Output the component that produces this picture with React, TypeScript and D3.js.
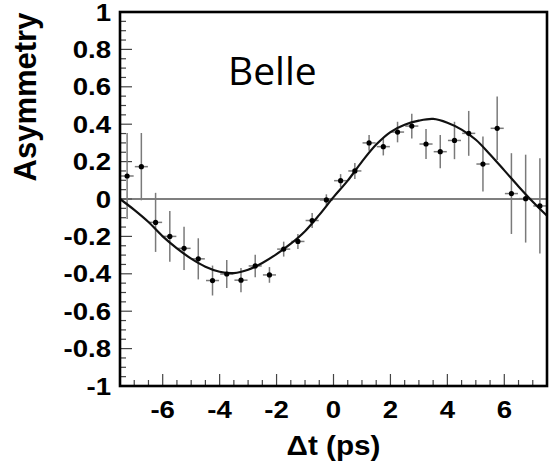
import React from "react";
import * as d3 from "d3";

// binned asymmetry (bin centres in ps)
const binCentres = [
  -7.25, -6.75, -6.25, -5.75, -5.25, -4.75, -4.25, -3.75, -3.25, -2.75,
  -2.25, -1.75, -1.25, -0.75, -0.25, 0.25, 0.75, 1.25, 1.75, 2.25,
  2.75, 3.25, 3.75, 4.25, 4.75, 5.25, 5.75, 6.25, 6.75, 7.25,
];
const asymValues = [
  0.123, 0.173, -0.125, -0.2, -0.264, -0.32, -0.436, -0.401, -0.434, -0.358,
  -0.406, -0.268, -0.227, -0.115, -0.005, 0.098, 0.15, 0.3, 0.28, 0.358,
  0.39, 0.294, 0.253, 0.313, 0.351, 0.187, 0.378, 0.029, 0.002, -0.037,
];
const asymErrors = [
  0.23, 0.18, 0.158, 0.136, 0.116, 0.11, 0.08, 0.075, 0.065, 0.06,
  0.042, 0.04, 0.04, 0.04, 0.03, 0.035, 0.043, 0.042, 0.047, 0.055,
  0.066, 0.08, 0.089, 0.1, 0.12, 0.147, 0.17, 0.216, 0.235, 0.255,
];
const binHalfWidth = 0.23;

// fitted curve, sampled from the plot
const fitTimes = [
  -7.5, -7, -6.5, -6, -5.5, -5, -4.5, -4, -3.5, -3, -2.5, -2, -1.5, -1, -0.5,
  0, 0.5, 1, 1.5, 2, 2.5, 3, 3.5, 4, 4.5, 5, 5.5, 6, 6.5, 7, 7.5,
];
const fitValues = [
  0.0, -0.058, -0.123, -0.2, -0.264, -0.319, -0.362, -0.389, -0.396, -0.378,
  -0.342, -0.295, -0.239, -0.172, -0.085, 0.01, 0.098, 0.2, 0.291, 0.358,
  0.397, 0.419, 0.428, 0.408, 0.371, 0.317, 0.238, 0.153, 0.067, -0.015, -0.09,
];

const xTickLabels = ["-6", "-4", "-2", "0", "2", "4", "6"];
const yTickLabels = ["-1", "-0.8", "-0.6", "-0.4", "-0.2", "0", "0.2", "0.4", "0.6", "0.8", "1"];

const W = 549;
const H = 469;
const plot = { left: 120, right: 547, top: 12, bottom: 386 };
const labelFont = "'Liberation Sans', Arial, Helvetica, sans-serif";

export default function App() {
  const x = d3.scaleLinear().domain([-7.5, 7.5]).range([plot.left, plot.right]);
  const y = d3.scaleLinear().domain([-1, 1]).range([plot.bottom, plot.top]);

  const fitLine = d3
    .line<number>()
    .x((d, i) => x(fitTimes[i]))
    .y((d) => y(d))
    .curve(d3.curveCatmullRom);

  const xMinor = d3.range(-7, 7.51, 0.5);
  const yMinor = d3.range(-1, 1.001, 0.05);

  return (
    <svg
      width={W}
      height={H}
      style={{ position: "absolute", left: 0, top: 0, background: "#fff" }}
    >
      {/* y ticks */}
      {yMinor.map((v, i) => {
        const major = i % 4 === 0;
        return (
          <line
            key={"yt" + i}
            x1={plot.left}
            x2={plot.left + (major ? 12 : 6)}
            y1={y(v)}
            y2={y(v)}
            stroke="#444"
            strokeWidth={1.2}
          />
        );
      })}
      {/* x ticks */}
      {xMinor.map((v, i) => {
        const major = Math.abs(Math.round(v) - v) < 1e-6 && Math.round(v) % 2 === 0;
        return (
          <line
            key={"xt" + i}
            x1={x(v)}
            x2={x(v)}
            y1={plot.bottom}
            y2={plot.bottom - (major ? 12 : 6)}
            stroke="#444"
            strokeWidth={1.2}
          />
        );
      })}

      {/* zero line */}
      <line x1={plot.left} x2={plot.right} y1={y(0)} y2={y(0)} stroke="#555" strokeWidth={1.5} />

      {/* error bars */}
      {binCentres.map((t, i) => {
        const v = asymValues[i];
        const e = asymErrors[i];
        return (
          <g key={"eb" + i} stroke="#7a7a7a" strokeWidth={1.5}>
            <line x1={x(t)} x2={x(t)} y1={y(Math.min(1, v + e))} y2={y(Math.max(-1, v - e))} />
            <line x1={x(t - binHalfWidth)} x2={x(t + binHalfWidth)} y1={y(v)} y2={y(v)} />
          </g>
        );
      })}

      {/* fit */}
      <path d={fitLine(fitValues) || ""} fill="none" stroke="#111" strokeWidth={2.2} />

      {/* points */}
      {binCentres.map((t, i) => (
        <circle key={"pt" + i} cx={x(t)} cy={y(asymValues[i])} r={2.6} fill="#000" />
      ))}

      {/* frame */}
      <rect
        x={plot.left}
        y={plot.top}
        width={plot.right - plot.left}
        height={plot.bottom - plot.top}
        fill="none"
        stroke="#000"
        strokeWidth={2.6}
      />

      {/* y tick labels */}
      {yTickLabels.map((s) => (
        <text
          key={"yl" + s}
          transform={`translate(111,${y(+s) + 8.5}) scale(1.15,1)`}
          textAnchor="end"
          fontFamily={labelFont}
          fontWeight="bold"
          fontSize={24}
          fill="#000"
        >
          {s}
        </text>
      ))}
      {/* x tick labels */}
      {xTickLabels.map((s) => (
        <text
          key={"xl" + s}
          transform={`translate(${x(+s)},418) scale(1.15,1)`}
          textAnchor="middle"
          fontFamily={labelFont}
          fontWeight="bold"
          fontSize={24}
          fill="#000"
        >
          {s}
        </text>
      ))}

      {/* axis titles */}
      <text
        transform={`translate(${(plot.left + plot.right) / 2},455) scale(1.1,1)`}
        textAnchor="middle"
        fontFamily={labelFont}
        fontWeight="bold"
        fontSize={27}
        fill="#000"
      >
        Δt (ps)
      </text>
      <text
        transform="translate(36,97) rotate(-90)"
        textAnchor="middle"
        fontFamily={labelFont}
        fontWeight="bold"
        fontSize={31}
        fill="#000"
      >
        Asymmetry
      </text>

      <text x={228} y={85} fontFamily="'Open Sans', sans-serif" fontSize={39} fill="#000">
        Belle
      </text>
    </svg>
  );
}
